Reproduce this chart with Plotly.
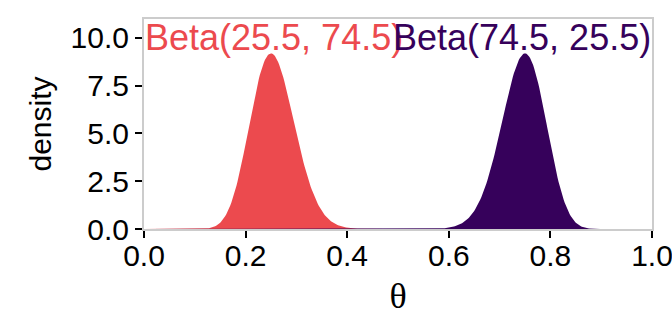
import math
import plotly.graph_objects as go

# Beta distribution parameters and styling per series
labels = ["Beta(25.5, 74.5)", "Beta(74.5, 25.5)"]
alphas = [25.5, 74.5]
betas = [74.5, 25.5]
colors = ["#EC4A4E", "#36015B"]

x_ticks = [0.0, 0.2, 0.4, 0.6, 0.8, 1.0]
y_ticks = [0.0, 2.5, 5.0, 7.5, 10.0]

n_grid = 501
theta = [i / (n_grid - 1) for i in range(n_grid)]


def beta_pdf(t, a, b):
    if t <= 0 or t >= 1:
        return 0.0
    log_norm = math.lgamma(a + b) - math.lgamma(a) - math.lgamma(b)
    return math.exp(log_norm + (a - 1) * math.log(t) + (b - 1) * math.log(1 - t))


fig = go.Figure()
for lab, a, b, col in zip(labels, alphas, betas, colors):
    dens = [beta_pdf(t, a, b) for t in theta]
    fig.add_trace(go.Scatter(
        x=theta, y=dens, mode="lines", fill="tozeroy",
        line=dict(color=col, width=0), fillcolor=col,
        name=lab, showlegend=False, hoverinfo="skip",
    ))
    mean = a / (a + b)
    fig.add_annotation(
        x=mean, y=10, text=lab, showarrow=False,
        font=dict(family="Liberation Sans, Arial", size=36, color=col),
        xanchor="center", yanchor="middle",
    )

axis_common = dict(
    showgrid=False, zeroline=False,
    showline=True, linecolor="#CCCCCC", linewidth=2, mirror=True,
    ticks="outside", ticklen=7, tickwidth=2, tickcolor="black",
    tickfont=dict(family="Liberation Sans, Arial", size=30, color="black"),
    ticklabeloverflow="allow", automargin=False,
)

fig.update_xaxes(
    range=[0, 1], tickvals=x_ticks,
    ticktext=[f"{v:.1f}" for v in x_ticks],
    ticklabelstandoff=-8,
    title=dict(text="θ", font=dict(family="Liberation Serif, Times New Roman", size=36, color="black"), standoff=12),
    **axis_common,
)
fig.update_yaxes(
    range=[0, 10.98], tickvals=y_ticks,
    ticktext=[f"{v:.1f}" for v in y_ticks],
    title=dict(text="density", font=dict(family="Liberation Sans, Arial", size=30, color="black"), standoff=10),
    **axis_common,
)

fig.update_layout(
    width=672, height=336,
    margin=dict(l=144, r=20, t=19, b=107),
    plot_bgcolor="white", paper_bgcolor="white",
)

fig.write_html("out.html")
